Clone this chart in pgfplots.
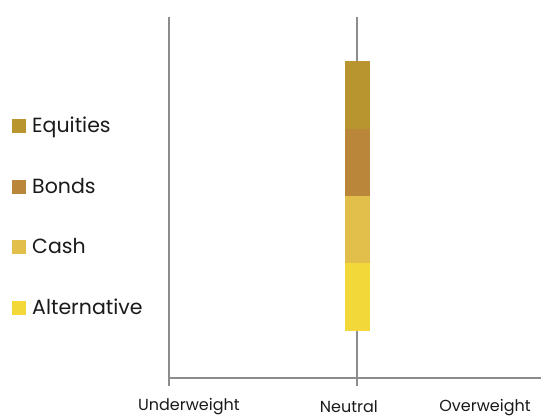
\documentclass[border=0pt]{standalone}
\usepackage{pgfplots}
\pgfplotsset{compat=1.18}
\usepackage{fontspec}
\setmainfont{Poppins}
\definecolor{eqc}{HTML}{B8952E}
\definecolor{bdc}{HTML}{BA8639}
\definecolor{csc}{HTML}{E2BE4B}
\definecolor{alc}{HTML}{F3D83A}
\definecolor{axisgray}{HTML}{8C8C8C}
\definecolor{txt}{HTML}{1A1A1A}
\begin{document}
\begin{tikzpicture}
\path[use as bounding box] (0,0) rectangle (541pt,417pt);
\begin{axis}[
  at={(169pt,39pt)}, anchor=south west,
  scale only axis, width=372pt, height=361pt,
  xmin=0, xmax=1.9787, ymin=-0.7, ymax=4.67,
  axis x line*=bottom, axis y line*=left,
  axis line style={draw=axisgray, line width=1.8pt},
  xtick={0,1}, xticklabel=\empty, ytick=\empty,
  tick align=outside, major tick length=8pt,
  tick style={draw=axisgray, line width=1.8pt},
  xmajorgrids, grid style={draw=axisgray, line width=1.8pt},
  ybar stacked, bar width=25pt,
  clip=false,
  reverse legend,
  legend cell align=left,
  legend image code/.code={\fill[#1] (0pt,-5pt) rectangle (14pt,9pt);},
  legend style={at={(axis description cs:-0.422,0.7195)}, anchor=north west,
    draw=none, fill=none, inner sep=0pt, row sep=41pt, column sep=6pt,
    nodes={inner sep=0pt, text height=14.5pt, text depth=5pt, text=txt,
      font=\fontsize{20.5}{24}\selectfont}},
]
\addplot[fill=alc, draw=none] coordinates {(1,1.01)};
\addlegendentry{Alternative}
\addplot[fill=csc, draw=none] coordinates {(1,1.0)};
\addlegendentry{Cash}
\addplot[fill=bdc, draw=none] coordinates {(1,1.0)};
\addlegendentry{Bonds}
\addplot[fill=eqc, draw=none] coordinates {(1,1.0)};
\addlegendentry{Equities}
\node[anchor=base, text=txt, font=\fontsize{16}{19}\selectfont, yshift=-32.5pt] at (axis cs:0.106,-0.7) {Underweight};
\node[anchor=base, text=txt, font=\fontsize{16}{19}\selectfont, yshift=-34.5pt] at (axis cs:0.957,-0.7) {Neutral};
\node[anchor=base, text=txt, font=\fontsize{16}{19}\selectfont, yshift=-34pt] at (axis cs:1.681,-0.7) {Overweight};
\end{axis}
\end{tikzpicture}
\end{document}
